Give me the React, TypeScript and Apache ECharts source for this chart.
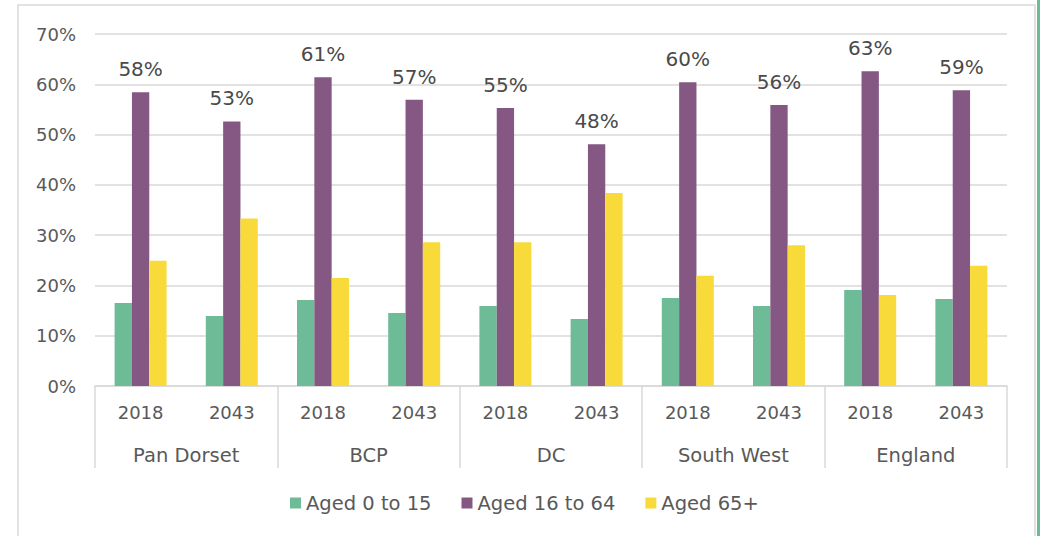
import React, { useEffect, useRef } from "react";
import * as echarts from "echarts";

const years = ["2018", "2043", "2018", "2043", "2018", "2043", "2018", "2043", "2018", "2043"];
const regions = ["Pan Dorset", "BCP", "DC", "South West", "England"];
const aged0to15 = [16.5, 13.9, 17.1, 14.5, 15.9, 13.3, 17.5, 15.9, 19.1, 17.3];
const aged16to64 = [58.4, 52.6, 61.4, 56.9, 55.3, 48.1, 60.4, 55.9, 62.6, 58.8];
const aged65plus = [24.9, 33.3, 21.5, 28.6, 28.6, 38.4, 21.9, 28.0, 18.1, 23.9];

const FONT = "DejaVu Sans";
const TXT = "#595959";
const GRID = "#D9D9D9";

export default function App() {
  const ref = useRef<HTMLDivElement>(null);
  useEffect(() => {
    const chart = echarts.init(ref.current!, undefined, { renderer: "svg" });
    chart.setOption({
      animation: false,
      textStyle: { fontFamily: FONT },
      grid: { left: 95, right: 35, top: 34, bottom: 150 },
      legend: {
        top: 488,
        left: 285,
        itemWidth: 11,
        itemHeight: 11,
        itemGap: 30,
        icon: "rect",
        textStyle: { fontFamily: FONT, fontSize: 19.5, color: TXT },
        data: ["Aged 0 to 15", "Aged 16 to 64", "Aged 65+"],
      },
      xAxis: [
        {
          type: "category",
          data: years,
          axisLine: { show: true, lineStyle: { color: GRID, width: 1.5 } },
          axisTick: { show: false },
          axisLabel: { fontFamily: FONT, fontSize: 18, color: TXT, margin: 17, interval: 0 },
        },
        {
          type: "category",
          data: regions,
          position: "bottom",
          axisLine: { show: false },
          axisTick: { show: true, length: 82, interval: 0, lineStyle: { color: GRID, width: 1.5 } },
          axisLabel: { fontFamily: FONT, fontSize: 19.5, color: TXT, margin: 59, interval: 0 },
        },
      ],
      yAxis: {
        type: "value",
        min: 0,
        max: 70,
        interval: 10,
        axisLine: { show: false },
        axisTick: { show: false },
        axisLabel: { formatter: "{value}%", fontFamily: FONT, fontSize: 18, color: TXT, margin: 19 },
        splitLine: { lineStyle: { color: GRID, width: 1.5 } },
      },
      series: [
        {
          name: "Aged 0 to 15",
          type: "bar",
          data: aged0to15,
          itemStyle: { color: "#6DBB97" },
          barGap: "0%",
          barCategoryGap: "43%",
        },
        {
          name: "Aged 16 to 64",
          type: "bar",
          data: aged16to64,
          itemStyle: { color: "#845882" },
          barGap: "0%",
          barCategoryGap: "43%",
          label: {
            show: true,
            position: "top",
            distance: 13,
            fontFamily: FONT,
            fontSize: 20,
            color: "#4a4a4a",
            formatter: (p: any) => Math.round(p.value) + "%",
          },
        },
        {
          name: "Aged 65+",
          type: "bar",
          data: aged65plus,
          itemStyle: { color: "#F8DB3A" },
          barGap: "0%",
          barCategoryGap: "43%",
        },
      ],
      graphic: [
        {
          type: "rect",
          shape: { x: 18, y: 5, width: 1017, height: 560 },
          style: { fill: "none", stroke: GRID, lineWidth: 1.5 },
          silent: true,
        },
        {
          type: "rect",
          shape: { x: 1037, y: 0, width: 3, height: 536 },
          style: { fill: "#6DBB97" },
          silent: true,
        },
      ],
    });
    return () => chart.dispose();
  }, []);
  return <div ref={ref} style={{ width: 1042, height: 536, position: "absolute", left: 0, top: 0 }} />;
}
